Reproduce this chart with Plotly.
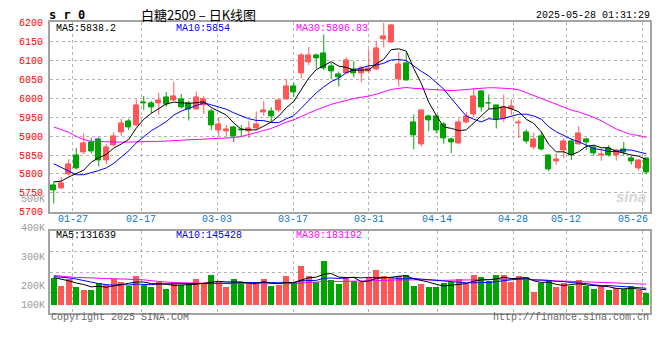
import plotly.graph_objects as go

# ---------------- data ----------------
dates = ["01-22", "01-23", "01-24", "01-27", "02-05", "02-06", "02-07", "02-10", "02-11", "02-12",
         "02-13", "02-14", "02-17", "02-18", "02-19", "02-20", "02-21", "02-24", "02-25", "02-26",
         "02-27", "02-28", "03-03", "03-04", "03-05", "03-06", "03-07", "03-10", "03-11", "03-12",
         "03-13", "03-14", "03-17", "03-18", "03-19", "03-20", "03-21", "03-24", "03-25", "03-26",
         "03-27", "03-28", "03-31", "04-01", "04-02", "04-03", "04-07", "04-08", "04-09", "04-10",
         "04-11", "04-14", "04-15", "04-16", "04-17", "04-18", "04-21", "04-22", "04-23", "04-24",
         "04-25", "04-28", "04-29", "04-30", "05-06", "05-07", "05-08", "05-09", "05-12", "05-13",
         "05-14", "05-15", "05-16", "05-19", "05-20", "05-21", "05-22", "05-23", "05-26", "05-27"]

opens = [5771, 5762, 5799, 5849, 5858, 5884, 5890, 5837, 5876, 5909,
         5939, 5929, 5989, 5987, 5986, 6003, 5994, 5997, 5987, 5971,
         5982, 5964, 5916, 5912, 5924, 5918, 5912, 5920, 5963, 5965,
         5967, 5997, 6031, 6065, 6095, 6114, 6118, 6084, 6063, 6065,
         6076, 6065, 6072, 6075, 6155, 6148, 6050, 6091, 5935, 5878,
         5953, 5953, 5931, 5890, 5882, 5936, 5957, 6018, 5987, 5980,
         5944, 5970, 5933, 5909, 5869, 5899, 5849, 5833, 5862, 5886,
         5879, 5892, 5871, 5848, 5867, 5849, 5865, 5841, 5816, 5842]

highs = [5779, 5792, 5839, 5869, 5907, 5896, 5897, 5879, 5910, 5946,
         5946, 5997, 6006, 5993, 6014, 6016, 6044, 6011, 5993, 6018,
         6006, 5971, 5948, 5929, 5927, 5929, 5939, 5965, 5993, 5976,
         5997, 6051, 6041, 6119, 6135, 6118, 6168, 6093, 6070, 6108,
         6098, 6085, 6129, 6151, 6200, 6195, 6121, 6121, 5957, 5970,
         5957, 5957, 5937, 5896, 5946, 5963, 6027, 6021, 6010, 5982,
         6010, 5997, 5944, 5918, 5909, 5910, 5849, 5854, 5893, 5893,
         5926, 5895, 5875, 5865, 5876, 5865, 5884, 5849, 5839, 5843]

lows = [5722, 5760, 5796, 5812, 5852, 5854, 5820, 5826, 5873, 5901,
        5916, 5926, 5969, 5961, 5957, 5978, 5992, 5973, 5941, 5970,
        5958, 5916, 5901, 5901, 5884, 5899, 5895, 5916, 5954, 5936,
        5963, 5995, 6003, 6052, 6087, 6078, 6074, 6050, 6031, 6064,
        6055, 6042, 6065, 6074, 6134, 6146, 6031, 6046, 5865, 5873,
        5913, 5907, 5880, 5855, 5878, 5933, 5950, 5965, 5971, 5920,
        5937, 5956, 5895, 5880, 5865, 5862, 5807, 5825, 5842, 5837,
        5878, 5863, 5848, 5835, 5846, 5835, 5848, 5825, 5809, 5799]

closes = [5756, 5775, 5826, 5814, 5880, 5860, 5835, 5869, 5898, 5933,
          5922, 5982, 5987, 5976, 5995, 5984, 6006, 5976, 5971, 6003,
          5997, 5929, 5931, 5918, 5898, 5914, 5921, 5931, 5967, 5952,
          5993, 6031, 6014, 6114, 6114, 6104, 6078, 6072, 6054, 6099,
          6065, 6078, 6078, 6131, 6162, 6192, 6088, 6048, 5901, 5967,
          5942, 5916, 5893, 5884, 5937, 5952, 6006, 5976, 5986, 5944,
          5976, 5978, 5937, 5886, 5890, 5865, 5812, 5839, 5886, 5850,
          5906, 5884, 5854, 5852, 5848, 5862, 5856, 5833, 5835, 5803]

volumes = [228500, 155000, 214900, 152300, 127800, 127800, 185000, 168600, 214900, 195800,
           163200, 242100, 168600, 146900, 195800, 136000, 195800, 168600, 174100, 217600,
           182200, 250200, 190400, 146900, 217600, 182200, 195800, 182200, 217600, 155000,
           168600, 242100, 182200, 326400, 242100, 195800, 367200, 209400, 176800, 223000,
           201300, 190400, 233900, 291000, 242100, 223000, 242100, 250200, 163200, 176800,
           146900, 146900, 182200, 195800, 217600, 176800, 250200, 233900, 201300, 250200,
           250200, 195800, 242100, 233900, 111500, 182200, 209400, 146900, 187700, 160500,
           209400, 155000, 136000, 155000, 127800, 141400, 136000, 155000, 127800, 97900]

# moving-average values before a full window is available
ma5_head = [5779, 5781, 5792, 5802]
ma10_head = [5827, 5817, 5806, 5798, 5798, 5803, 5809, 5816, 5828]
ma30_head = [5924, 5918, 5910, 5899, 5891, 5886, 5885, 5884, 5884, 5884,
             5884, 5885, 5885, 5886, 5886, 5887, 5887, 5888, 5889, 5890,
             5891, 5892, 5893, 5894, 5896, 5899, 5903, 5909, 5915]
vma5_head = [234000, 223000, 207000, 188000]
vma10_head = [242000, 238000, 232000, 222000, 208000, 195000, 183000, 175000, 170000]
vma30_head = [253000, 245000, 240000, 236000, 232000, 230000, 228000, 226000, 225000, 224000,
              223000, 222000, 215000, 208000, 200000, 196000, 193000, 190000, 188000, 186000,
              184000, 183000, 183000, 182000, 182000, 182000, 182000, 182000, 183000]

grid_dates = ["01-27", "02-17", "03-03", "03-17", "03-31", "04-14", "04-28", "05-12", "05-26"]
price_ticks = [5700, 5750, 5800, 5850, 5900, 5950, 6000, 6050, 6100, 6150, 6200]
vol_tick_labels = ["500K", "400K", "300K", "200K", "100K"]

symbol = "s r 0"
title = "白糖2509\u00a0\u2013\u00a0日K线图"
stamp = "2025-05-28 01:31:29"
ma_price_text = ["MA5:5838.2", "MA10:5854", "MA30:5896.83"]
ma_vol_text = ["MA5:131639", "MA10:145428", "MA30:183192"]

# ---------------- styling ----------------
RED = "#ff5757"
GREEN = "#00a400"
FRAME = "#a4a4a4"
GRID = "#b4b4b4"
MONO = "Liberation Mono, DejaVu Sans Mono, monospace"
W, H = 660, 360


def px_x(p):
    return p / W


def px_y(p):
    return 1 - p / H


def moving_average(values, window, head):
    out = list(head)
    for i in range(len(head), len(values)):
        seg = values[i - window + 1:i + 1]
        out.append(sum(seg) / window)
    return out


n = len(dates)
idx = list(range(n))
is_up = [c >= o for o, c in zip(opens, closes)]

ma5 = moving_average(closes, 5, ma5_head)
ma10 = moving_average(closes, 10, ma10_head)
ma30 = moving_average(closes, 30, ma30_head)
vma5 = moving_average(volumes, 5, vma5_head)
vma10 = moving_average(volumes, 10, vma10_head)
vma30 = moving_average(volumes, 30, vma30_head)

grid_idx = [dates.index(d) for d in grid_dates]

fig = go.Figure()

# invisible traces that carry the grid axes
fig.add_trace(go.Scatter(x=grid_idx, y=[None] * len(grid_idx), xaxis="x2", yaxis="y",
                         mode="markers", hoverinfo="skip", showlegend=False))
fig.add_trace(go.Scatter(x=grid_idx, y=[None] * len(grid_idx), xaxis="x4", yaxis="y2",
                         mode="markers", hoverinfo="skip", showlegend=False))

# wicks and bodies
for flag, col in ((True, RED), (False, GREEN)):
    wx, wy = [], []
    bx, bbase, bh = [], [], []
    for i in idx:
        if is_up[i] != flag:
            continue
        wx += [i, i, None]
        wy += [lows[i], highs[i], None]
        bx.append(i)
        bbase.append(min(opens[i], closes[i]))
        bh.append(abs(closes[i] - opens[i]))
    fig.add_trace(go.Scatter(x=wx, y=wy, mode="lines", line=dict(color=col, width=1),
                             hoverinfo="skip", showlegend=False, xaxis="x", yaxis="y"))
    fig.add_trace(go.Bar(x=bx, y=bh, base=bbase, width=0.68, marker=dict(color=col, line=dict(color=col, width=1)),
                         hoverinfo="skip", showlegend=False, xaxis="x", yaxis="y"))

for vals, col in ((ma30, "#ff00ff"), (ma10, "#0000ff"), (ma5, "#000000")):
    fig.add_trace(go.Scatter(x=idx, y=vals, mode="lines", line=dict(color=col, width=1),
                             hoverinfo="skip", showlegend=False, xaxis="x", yaxis="y"))

# volume
for flag, col in ((True, RED), (False, GREEN)):
    vx = [i for i in idx if is_up[i] == flag]
    vy = [volumes[i] for i in vx]
    fig.add_trace(go.Bar(x=vx, y=vy, width=0.8, marker=dict(color=col, line=dict(width=0)),
                         hoverinfo="skip", showlegend=False, xaxis="x3", yaxis="y2"))

for vals, col in ((vma30, "#ff00ff"), (vma10, "#0000ff"), (vma5, "#000000")):
    fig.add_trace(go.Scatter(x=idx, y=vals, mode="lines", line=dict(color=col, width=1),
                             hoverinfo="skip", showlegend=False, xaxis="x3", yaxis="y2"))

# ---------------- layout ----------------
X_DOM = [px_x(50), px_x(650)]
P_DOM = [px_y(214), px_y(18)]
V_DOM = [px_y(318.3), px_y(234.3)]
vol_range = [-62000, 623000]
vol_grid = [vol_range[0] + k * (vol_range[1] - vol_range[0]) / 4 for k in (1, 2, 3)]

frame = dict(showline=True, mirror=True, linecolor=FRAME, linewidth=2, zeroline=False)
gridaxis = dict(showgrid=True, griddash="dot", gridcolor=GRID, gridwidth=1,
                showticklabels=False, zeroline=False, showline=False, ticks="")

fig.update_layout(
    width=W, height=H, margin=dict(l=0, r=0, t=0, b=0),
    paper_bgcolor="white", plot_bgcolor="white", showlegend=False,
    barmode="overlay", bargap=0, hovermode=False,
    xaxis=dict(domain=X_DOM, range=[-0.5, n - 0.5], anchor="y", showgrid=False,
               showticklabels=False, ticks="", **frame),
    xaxis2=dict(overlaying="x", range=[0, n - 1], anchor="y", tickvals=grid_idx, **gridaxis),
    xaxis3=dict(domain=X_DOM, range=[-0.5, n - 0.5], anchor="y2", showgrid=False,
                showticklabels=False, ticks="", **frame),
    xaxis4=dict(overlaying="x3", range=[0, n - 1], anchor="y2", tickvals=grid_idx, **gridaxis),
    yaxis=dict(domain=P_DOM, range=[5700, 6200], anchor="x", tickvals=price_ticks,
               showgrid=True, griddash="dot", gridcolor=GRID, gridwidth=1, ticks="",
               ticklabelstandoff=3,
               tickfont=dict(family=MONO, size=10, color="#ff0000"), **frame),
    yaxis2=dict(domain=V_DOM, range=vol_range, anchor="x3", tickvals=vol_grid,
                showgrid=True, griddash="dot", gridcolor=GRID, gridwidth=1, ticks="",
                showticklabels=False, **frame),
)

ann = []


def text(x, y, s, color="#000000", size=10, family=MONO, xanchor="left", xref="paper"):
    ann.append(dict(x=x, y=y, xref=xref, yref="paper", text=s, showarrow=False,
                    xanchor=xanchor, yanchor="middle",
                    font=dict(family=family, size=size, color=color)))


# header
text(px_x(47), px_y(10), "<b>" + symbol + "</b>", size=12,
     family="DejaVu Sans Mono, monospace")
text(px_x(139), px_y(9.5), title, size=13, family="Noto Sans CJK SC, sans-serif")
text(px_x(652), px_y(11), stamp, size=10, xanchor="right")

# MA legends
ma_cols = ["#000000", "#0000ff", "#ff00ff"]
for s, c, xp in zip(ma_price_text, ma_cols, (54, 174, 294)):
    text(px_x(xp), px_y(24), s, color=c, size=10)
for s, c, xp in zip(ma_vol_text, ma_cols, (54, 174, 294)):
    text(px_x(xp), px_y(238.5), s, color=c, size=10)

# date labels
for d, gi in zip(grid_dates, grid_idx):
    if gi > n - 3:
        text(n - 1, px_y(222), d, color="#0a78c8", size=10, xanchor="right", xref="x2")
    else:
        text(gi, px_y(222), d, color="#0a78c8", size=10, xanchor="center", xref="x2")

# volume labels
for s, yp in zip(vol_tick_labels, (201.5, 230.7, 261, 290.7, 310.7)):
    text(px_x(47), px_y(yp), s, color="#9a9a9a", size=10, xanchor="right")

# footers
text(px_x(49), px_y(323.5), "Copyright 2025 SINA.COM", color="#666666", size=10)
text(px_x(651), px_y(323.5), "http://finance.sina.com.cn", color="#666666", size=10, xanchor="right")

# watermark
text(px_x(648), px_y(198), "<b><i>sina</i></b>", color="#d6d6d6", size=15,
     family="Liberation Sans, sans-serif", xanchor="right")

fig.update_layout(annotations=ann)
fig.write_html("out.html", config={"displayModeBar": False},
               post_script="document.body.style.margin='0';document.body.style.padding='0';")
